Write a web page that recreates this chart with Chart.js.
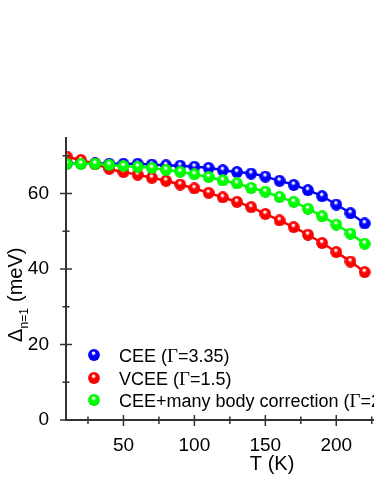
<!DOCTYPE html>
<html>
<head>
<meta charset="utf-8">
<script src="https://cdn.jsdelivr.net/npm/chart.js@4/dist/chart.umd.min.js"></script>
<style>
    html, body { margin: 0; padding: 0; overflow: hidden; background: #fff; }
    #wrap { width: 500px; height: 484px; }
</style>
</head>
<body>
<div id="wrap"><canvas id="chart" width="500" height="484"></canvas></div>
<script>
// ------------------------------------------------
// Data (gap in meV vs T in K)
// ------------------------------------------------
const temps = [10, 20, 30, 40, 50, 60, 70, 80, 90, 100, 110, 120, 130, 140, 150, 160, 170, 180, 190, 200, 210, 220];
const ceeGap = [68.0, 68.0, 68.0, 67.9, 67.9, 67.9, 67.7, 67.5, 67.4, 67.1, 66.8, 66.2, 65.7, 65.3, 64.5, 63.4, 62.3, 60.9, 59.3, 57.1, 54.8, 52.1];
const vceeGap = [69.8, 68.9, 67.8, 66.6, 65.7, 65.0, 64.2, 63.4, 62.4, 61.4, 60.2, 59.0, 57.8, 56.4, 54.6, 52.9, 51.1, 49.1, 46.9, 44.5, 42.0, 39.2];
const manyBodyGap = [67.9, 67.9, 67.9, 67.6, 67.3, 67.1, 66.8, 66.3, 65.8, 65.1, 64.4, 63.5, 62.7, 61.5, 60.5, 59.1, 57.8, 56.0, 54.0, 51.8, 49.4, 46.7];

const seriesNames = ["CEE", "VCEE", "CEE+many body correction"];
const gammaValues = ["3.35", "1.5", "2.5"];

const xTicks = [50, 100, 150, 200, 250, 300];
const xMinorTicks = [25, 75, 125, 175, 225, 275];
const yTicks = [0, 20, 40, 60];
const yMinorTicks = [10, 30, 50, 70];

const SANS = '"Liberation Sans", Arial, sans-serif';
const SERIF = '"Liberation Serif", "Times New Roman", serif';

// Shaded ball used as point marker (and in the legend).
function makeBall(color, dark) {
    var c = document.createElement("canvas");
    c.width = c.height = 12;
    var g = c.getContext("2d");
    var grad = g.createRadialGradient(5.4, 3.6, 0.2, 6, 6, 6);
    grad.addColorStop(0, "#ffffff");
    grad.addColorStop(0.12, "#ffffff");
    grad.addColorStop(0.38, color);
    grad.addColorStop(0.85, color);
    grad.addColorStop(1, dark);
    g.fillStyle = grad;
    g.beginPath();
    g.arc(6, 6, 5.9, 0, Math.PI * 2);
    g.fill();
    return c;
}

const balls = [
    makeBall("#0000ff", "#0000d0"),
    makeBall("#ff0000", "#d00000"),
    makeBall("#00ff00", "#00d000")
];
const lineColors = ["#0000ff", "#ff0000", "#00ff00"];
const series = [ceeGap, vceeGap, manyBodyGap];
// green on top, then red, then blue
const drawOrder = [2, 1, 0];

// Axes, crossing ticks and titles
const axesPlugin = {
    id: "axesPlugin",
    afterDatasetsDraw: function (chart) {
        var ctx = chart.ctx;
        var xs = chart.scales.x, ys = chart.scales.y;
        var a = chart.chartArea;
        ctx.save();
        ctx.strokeStyle = "#333";
        ctx.lineWidth = 2;
        ctx.beginPath();
        ctx.moveTo(a.left, a.top);
        ctx.lineTo(a.left, a.bottom);
        ctx.moveTo(a.left - 1, a.bottom);
        ctx.lineTo(a.right, a.bottom);
        ctx.stroke();

        ctx.lineWidth = 1.5;
        ctx.beginPath();
        xTicks.forEach(function (v) {
            var px = xs.getPixelForValue(v);
            ctx.moveTo(px, a.bottom - 5); ctx.lineTo(px, a.bottom + 6);
        });
        xMinorTicks.forEach(function (v) {
            var px = xs.getPixelForValue(v);
            ctx.moveTo(px, a.bottom - 3.5); ctx.lineTo(px, a.bottom + 4);
        });
        yTicks.forEach(function (v) {
            var py = ys.getPixelForValue(v);
            ctx.moveTo(a.left - 6, py); ctx.lineTo(a.left + 6, py);
        });
        yMinorTicks.forEach(function (v) {
            var py = ys.getPixelForValue(v);
            ctx.moveTo(a.left - 3.5, py); ctx.lineTo(a.left + 3.5, py);
        });
        ctx.stroke();

        // x title
        ctx.fillStyle = "#000";
        ctx.font = "20px " + SANS;
        ctx.textAlign = "center";
        ctx.textBaseline = "alphabetic";
        ctx.fillText("T (K)", (a.left + a.right) / 2, 470);

        // y title, rotated, with subscript
        ctx.translate(21.5, 342);
        ctx.rotate(-Math.PI / 2);
        ctx.textAlign = "left";
        ctx.font = "20px " + SANS;
        ctx.fillText("\u0394", 0, 0);
        ctx.font = "12px " + SANS;
        ctx.fillText("n=1", 13.5, 6);
        ctx.font = "20px " + SANS;
        ctx.fillText("(meV)", 40, 0);
        ctx.restore();
    }
};

// Legend inside the plot, bottom left
const legendPlugin = {
    id: "legendPlugin",
    afterDraw: function (chart) {
        var ctx = chart.ctx;
        var rows = [355, 378, 400];
        ctx.save();
        ctx.fillStyle = "#000";
        ctx.textBaseline = "alphabetic";
        ctx.textAlign = "left";
        seriesNames.forEach(function (name, i) {
            var y = rows[i];
            ctx.drawImage(balls[i], 94 - 6, y - 6);
            var x = 119;
            ctx.font = "18px " + SANS;
            var s1 = name + " (";
            ctx.fillText(s1, x, y + 6.5);
            x += ctx.measureText(s1).width;
            ctx.font = "19px " + SERIF;
            ctx.fillText("\u0393", x, y + 6.5);
            x += ctx.measureText("\u0393").width;
            ctx.font = "18px " + SANS;
            ctx.fillText("=" + gammaValues[i] + ")", x, y + 6.5);
        });
        ctx.restore();
    }
};

const datasets = series.map(function (vals, i) {
    return {
        label: seriesNames[i],
        data: temps.map(function (t, k) { return { x: t, y: vals[k] }; }),
        borderColor: lineColors[i],
        backgroundColor: lineColors[i],
        borderWidth: 2.5,
        tension: 0.2,
        pointStyle: balls[i],
        pointRadius: 6,
        order: drawOrder[i],
        clip: { left: 0, top: false, right: false, bottom: false }
    };
});

const tickFont = { family: SANS, size: 19 };

const myChart = new Chart(document.getElementById("chart"), {
    type: "line",
    data: { datasets: datasets },
    options: {
        responsive: false,
        animation: false,
        layout: { padding: { left: 0, top: 137, right: 16, bottom: 0 } },
        plugins: {
            legend: { display: false },
            tooltip: { enabled: false }
        },
        scales: {
            x: {
                type: "linear",
                min: 9.5,
                max: 300,
                grid: { display: false },
                border: { display: false },
                afterBuildTicks: function (s) { s.ticks = xTicks.map(function (v) { return { value: v }; }); },
                afterFit: function (s) { s.height = 64; },
                ticks: { padding: 6, font: tickFont, color: "#000", maxRotation: 0, autoSkip: false }
            },
            y: {
                type: "linear",
                min: 0,
                max: 75,
                grid: { display: false },
                border: { display: false },
                afterBuildTicks: function (s) { s.ticks = yTicks.map(function (v) { return { value: v }; }); },
                afterFit: function (s) { s.width = 66; },
                ticks: { padding: 9, font: tickFont, color: "#000" }
            }
        }
    },
    plugins: [axesPlugin, legendPlugin]
});
</script>
</body>
</html>
